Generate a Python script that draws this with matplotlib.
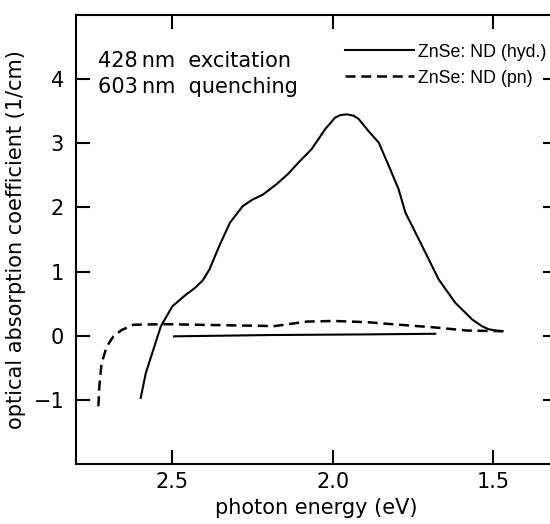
import numpy as np
import matplotlib.pyplot as plt

# hydrogenated sample, solid curve (photon energy in eV, alpha in 1/cm)
hyd_energy = [2.598, 2.582, 2.562, 2.535, 2.499, 2.457, 2.430, 2.405, 2.384,
              2.353, 2.32, 2.28, 2.25, 2.217, 2.175, 2.139, 2.106, 2.065,
              2.023, 1.992, 1.975, 1.955, 1.935, 1.919, 1.888, 1.856, 1.825,
              1.794, 1.773, 1.721, 1.669, 1.617, 1.564, 1.535, 1.513, 1.49,
              1.47]
hyd_alpha = [-0.97, -0.58, -0.27, 0.15, 0.46, 0.64, 0.74, 0.86, 1.03,
             1.40, 1.76, 2.02, 2.12, 2.20, 2.36, 2.52, 2.70, 2.91,
             3.22, 3.40, 3.44, 3.45, 3.43, 3.38, 3.19, 3.01, 2.65,
             2.28, 1.92, 1.40, 0.875, 0.51, 0.25, 0.15, 0.10, 0.08,
             0.07]

# baseline segment (solid)
base_energy = [2.494, 2.2, 1.9, 1.68]
base_alpha = [-0.01, 0.01, 0.02, 0.03]

# pn sample, dashed curve
pn_energy = [2.730, 2.727, 2.72, 2.704, 2.683, 2.657, 2.621, 2.527, 2.416,
             2.18, 2.08, 1.997, 1.89, 1.84, 1.79, 1.684, 1.58, 1.47]
pn_alpha = [-1.10, -0.79, -0.43, -0.17, -0.01, 0.09, 0.17, 0.18, 0.17,
            0.15, 0.22, 0.23, 0.21, 0.19, 0.17, 0.13, 0.08, 0.07]

x_ticks = [2.5, 2.0, 1.5]
x_tick_labels = ['2.5', '2.0', '1.5']
y_ticks = [-1, 0, 1, 2, 3, 4]
y_tick_labels = ['\u22121', '0', '1', '2', '3', '4']

plt.rcParams['font.family'] = ['DejaVu Sans']

fig = plt.figure(figsize=(5.5, 5.24), dpi=100)
ax = fig.add_axes([0.138, 0.1145, 0.875, 0.857])

ax.plot(hyd_energy, hyd_alpha, color='black', lw=1.5,
        solid_joinstyle='round', label='ZnSe: ND (hyd.)')
ax.plot(base_energy, base_alpha, color='black', lw=1.5)
ax.plot(pn_energy, pn_alpha, color='black', lw=1.8, linestyle=(0, (4, 2.3)),
        label='ZnSe: ND (pn)')

ax.set_xlim(2.8, 1.3)
ax.set_ylim(-2, 5)
ax.set_xticks(x_ticks)
ax.set_xticklabels(x_tick_labels)
ax.set_yticks(y_ticks)
ax.set_yticklabels(y_tick_labels)

ax.tick_params(direction='in', length=10, width=1.5, labelsize=15,
               top=True, right=True)
ax.tick_params(axis='x', pad=6)
ax.tick_params(axis='y', pad=8.5)
for sp in ax.spines.values():
    sp.set_linewidth(1.5)

ax.set_xlabel('photon energy (eV)', fontsize=15, labelpad=4)
ax.set_ylabel('optical absorption coefficient (1/cm)', fontsize=15,
              labelpad=5)

ax.text(0.046, 0.885, '428\u2009nm  excitation', transform=ax.transAxes,
        fontsize=15, va='baseline', ha='left')
ax.text(0.046, 0.826, '603\u2009nm  quenching', transform=ax.transAxes,
        fontsize=15, va='baseline', ha='left')

leg = ax.legend(loc='upper left', bbox_to_anchor=(0.559, 0.936), frameon=False,
                borderpad=0, borderaxespad=0, handlelength=3.9,
                handletextpad=0.2, labelspacing=0.5,
                prop={'family': ['Liberation Sans'], 'size': 12.8})

fig.savefig('out.png', dpi=100)
